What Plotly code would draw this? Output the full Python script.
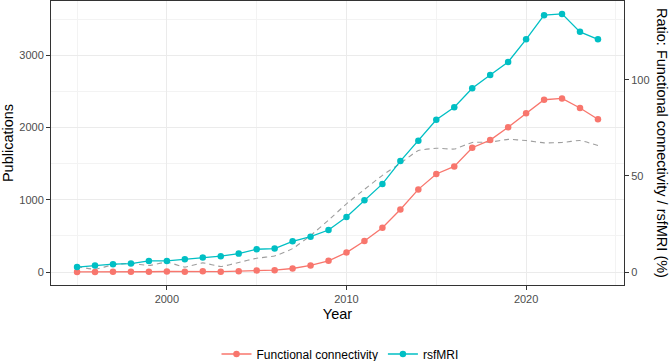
import plotly.graph_objects as go

years = list(range(1995, 2025))
functional_connectivity = [2, 1, 4, 5, 5, 8, 5, 10, 6, 13, 23, 27, 50, 92, 156, 270, 430, 614, 866, 1144,
                           1357, 1462, 1720, 1826, 2003, 2196, 2384, 2402, 2270, 2113]
rsfmri = [69, 91, 110, 118, 155, 155, 179, 201, 220, 256, 316, 325, 426, 490, 582, 762, 994, 1220, 1535, 1818,
          2106, 2281, 2542, 2726, 2906, 3219, 3553, 3571, 3323, 3219]
ratio_pct = [2.9, 1.5, 3.8, 4.6, 3.4, 5.2, 2.6, 4.8, 2.9, 5.0, 7.2, 8.4, 12.2, 19.0, 27.0, 35.5, 43.0, 50.3,
             56.6, 63.2, 64.4, 64.0, 67.4, 67.6, 69.0, 68.4, 67.2, 67.4, 68.4, 65.8]

SCALE = 26.6  # publications per ratio-percent on the secondary axis

RED = "#F8766D"
TEAL = "#00BFC4"
FONT = "Liberation Sans"

fig = go.Figure()
fig.add_trace(go.Scatter(x=years, y=[r * SCALE for r in ratio_pct], mode="lines",
                         line=dict(color="#9E9E9E", width=1.1, dash="5px,4px", shape="spline", smoothing=0.4),
                         showlegend=False, hoverinfo="skip"))
fig.add_trace(go.Scatter(x=years, y=functional_connectivity, mode="lines+markers", name="Functional connectivity",
                         line=dict(color=RED, width=1.3), marker=dict(color=RED, size=6.5)))
fig.add_trace(go.Scatter(x=years, y=rsfmri, mode="lines+markers", name="rsfMRI",
                         line=dict(color=TEAL, width=1.3), marker=dict(color=TEAL, size=6.5)))
# invisible trace to attach secondary axis
fig.add_trace(go.Scatter(x=[years[0]], y=[0], yaxis="y2", mode="markers", marker=dict(opacity=0),
                         showlegend=False, hoverinfo="skip"))

ylo, yhi = -178.5, 3749.5
axis_common = dict(showline=True, linecolor="#333333", linewidth=1, mirror=True,
                   ticks="outside", ticklen=4, tickcolor="#333333", tickwidth=1,
                   tickfont=dict(family=FONT, size=11, color="#4D4D4D"), zeroline=False)

fig.update_layout(
    width=669, height=361,
    margin=dict(l=51, r=45, t=1, b=76, autoexpand=False),
    paper_bgcolor="white", plot_bgcolor="white",
    font=dict(family=FONT),
    xaxis=dict(range=[1993.55, 2025.45], tickvals=[2000, 2010, 2020],
               showgrid=True, gridcolor="#EBEBEB", gridwidth=1,
               minor=dict(tickvals=[1995, 2005, 2015, 2025], showgrid=True, gridcolor="#F3F3F3", ticks=""),
               title=dict(text="Year", font=dict(family=FONT, size=14.5, color="black"), standoff=4),
               **axis_common),
    yaxis=dict(range=[ylo, yhi], tickvals=[0, 1000, 2000, 3000],
               showgrid=True, gridcolor="#EBEBEB", gridwidth=1,
               minor=dict(tickvals=[500, 1500, 2500, 3500], showgrid=True, gridcolor="#F3F3F3", ticks=""),
               title=dict(text="Publications", font=dict(family=FONT, size=14.5, color="black"), standoff=4),
               **axis_common),
    yaxis2=dict(overlaying="y", side="right", range=[ylo / SCALE, yhi / SCALE], tickvals=[0, 50, 100],
                showgrid=False, ticks="outside", ticklen=4, tickcolor="#333333",
                tickfont=dict(family=FONT, size=11, color="#4D4D4D"), zeroline=False, showline=False),
    legend=dict(orientation="h", xref="container", x=340 / 669, xanchor="center",
                yref="container", y=(361 - 354) / 361, yanchor="middle",
                font=dict(family=FONT, size=12, color="black"), itemwidth=30),
    annotations=[dict(text="Ratio: Functional connectivity / rsfMRI (%)", textangle=90,
                      xref="paper", yref="paper", x=1 + (662 - 624) / 573, y=0.5,
                      xanchor="center", yanchor="middle", showarrow=False,
                      font=dict(family=FONT, size=14.5, color="black"))],
)

fig.write_html("out.html")
